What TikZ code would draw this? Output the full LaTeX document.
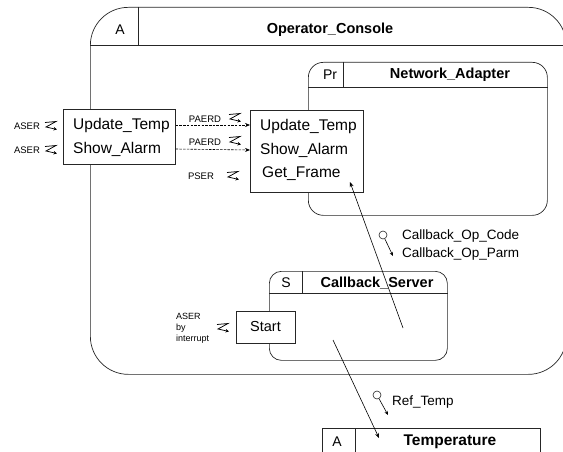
\documentclass[tikz,border=0pt]{standalone}
\usepackage{fontspec}
\setmainfont{Liberation Sans}
\usetikzlibrary{arrows.meta}
\tikzset{
  box/.style={draw=black!85, line width=0.7pt, inner sep=0pt, anchor=north west},
  opbox/.style={box, fill=white},
  optext/.style={font=\fontsize{15.5}{18}\selectfont, anchor=west, inner sep=0pt},
  hdr/.style={font=\bfseries\fontsize{14.5}{17}\selectfont, inner sep=0pt},
  kind/.style={font=\fontsize{14}{17}\selectfont, inner sep=0pt},
  lbl/.style={font=\fontsize{13.5}{16}\selectfont, anchor=west, inner sep=0pt},
  small/.style={font=\fontsize{9.5}{11}\selectfont, inner sep=0pt},
  conn/.style={line width=0.6pt, -{Stealth[length=5pt,width=4pt]}},
  dconn/.style={conn, dashed, dash pattern=on 2.5pt off 1.2pt},
  zsym/.pic={\draw[line width=0.75pt, line join=miter, -{Stealth[length=3.5pt,width=3.5pt]}] (-6,-3.5)--(5,-4.5)--(-5,1)--(6,3.5);},
}
\begin{document}
\begin{tikzpicture}[x=1pt,y=-1pt]
\useasboundingbox (0,0) rectangle (563,452);
\clip (0,0) rectangle (563,452);
% Operator_Console
\node[box, rounded corners=38pt, minimum width=476pt, minimum height=367pt] (oc) at (90,7) {};
\coordinate (ocH) at (90,45);
\draw[line width=0.7pt, black!85] (ocH) -- (ocH -| oc.east);
\draw[line width=0.7pt, black!85] (138,7) coordinate (ocD) -- (ocD |- ocH);
\node[kind] (ocK) at (120,30) {A};
\node[hdr] (ocT) at (330,30) {Operator\_Console};
% Network_Adapter
\node[box, rounded corners=15pt, minimum width=239pt, minimum height=153pt] (na) at (308,62) {};
\coordinate (naH) at (308,87);
\draw[line width=0.7pt, black!85] (naH) -- (naH -| na.east);
\draw[line width=0.7pt, black!85] (343,62) coordinate (naD) -- (naD |- naH);
\node[kind] (naK) at (330,75) {Pr};
\node[hdr] (naT) at (450,75) {Network\_Adapter};
% Callback_Server
\node[box, rounded corners=12pt, minimum width=178pt, minimum height=89pt] (cs) at (269,271) {};
\coordinate (csH) at (269,293);
\draw[line width=0.7pt, black!85] (csH) -- (csH -| cs.east);
\draw[line width=0.7pt, black!85] (302,271) coordinate (csD) -- (csD |- csH);
\node[kind] (csK) at (286,283) {S};
\node[hdr] (csT) at (377,283) {Callback\_Server};
% Temperature
\node[box, minimum width=218pt, minimum height=60pt] (tp) at (322,428) {};
\draw[line width=0.7pt, black!85] (355,428) coordinate (tpD) -- (355,460);
\node[kind] (tpK) at (337,442) {A};
\node[hdr, font=\bfseries\fontsize{15.5}{18}\selectfont] (tpT) at (450,442) {Temperature};
% client box
\node[opbox, minimum width=112pt, minimum height=55pt] (cl) at (63,109) {};
\node[optext] (clut) at (73,125) {Update\_Temp};
\node[optext] (clsa) at (73,149) {Show\_Alarm};
% server box
\node[opbox, minimum width=113pt, minimum height=82pt] (sv) at (250,110) {};
\node[optext] (svut) at (260,126) {Update\_Temp};
\node[optext] (svsa) at (260,150) {Show\_Alarm};
\node[optext] (svgf) at (262,174) {Get\_Frame};
% Start box
\node[opbox, minimum width=59pt, minimum height=32pt] (st) at (236,311) {};
\node[font=\fontsize{14.5}{17}\selectfont, inner sep=0pt] (stT) at (265.5,327) {Start};
% dashed calls
\draw[dconn] (cl.east |- clut) -- (sv.west |- clut);
\draw[dconn] (cl.east |- clsa) -- (sv.west |- svsa);
\node[small] (p1) at (205,119) {PAERD};
\pic at (235,118) {zsym};
\node[small] (p2) at (205,142) {PAERD};
\pic at (235,141) {zsym};
\node[small] (ps) at (201,176) {PSER};
\pic at (233,176) {zsym};
\node[small] (a1) at (27,126) {ASER};
\pic at (51,126) {zsym};
\node[small] (a2) at (27,150) {ASER};
\pic at (51,150) {zsym};
\node[small, anchor=west, align=left, font=\fontsize{9}{11}\selectfont] (a3) at (176,328) {ASER\\by\\interrupt};
\pic at (223,328) {zsym};
% flows
\coordinate (f1s) at (403,328);
\coordinate (f1e) at (350,182);
\draw[conn] (f1s) -- (f1e);
\coordinate (f2s) at (333,340);
\coordinate (f2e) at (379,438);
\draw[conn] (f2s) -- (f2e);
% parameters
\node[draw=black!85, line width=0.6pt, circle, minimum size=8pt, inner sep=0pt] (c1) at (383,235) {};
\coordinate (c1e) at (393,256);
\draw[conn, -{Stealth[length=4pt,width=3.5pt]}] (c1) -- (c1e);
\node[lbl] (l1) at (402,236) {Callback\_Op\_Code};
\node[lbl] (l2) at (402,254) {Callback\_Op\_Parm};
\node[draw=black!85, line width=0.6pt, circle, minimum size=8pt, inner sep=0pt] (c2) at (377,395) {};
\coordinate (c2e) at (388,415);
\draw[conn, -{Stealth[length=4pt,width=3.5pt]}] (c2) -- (c2e);
\node[lbl] (l3) at (392,402) {Ref\_Temp};
\end{tikzpicture}
\end{document}
